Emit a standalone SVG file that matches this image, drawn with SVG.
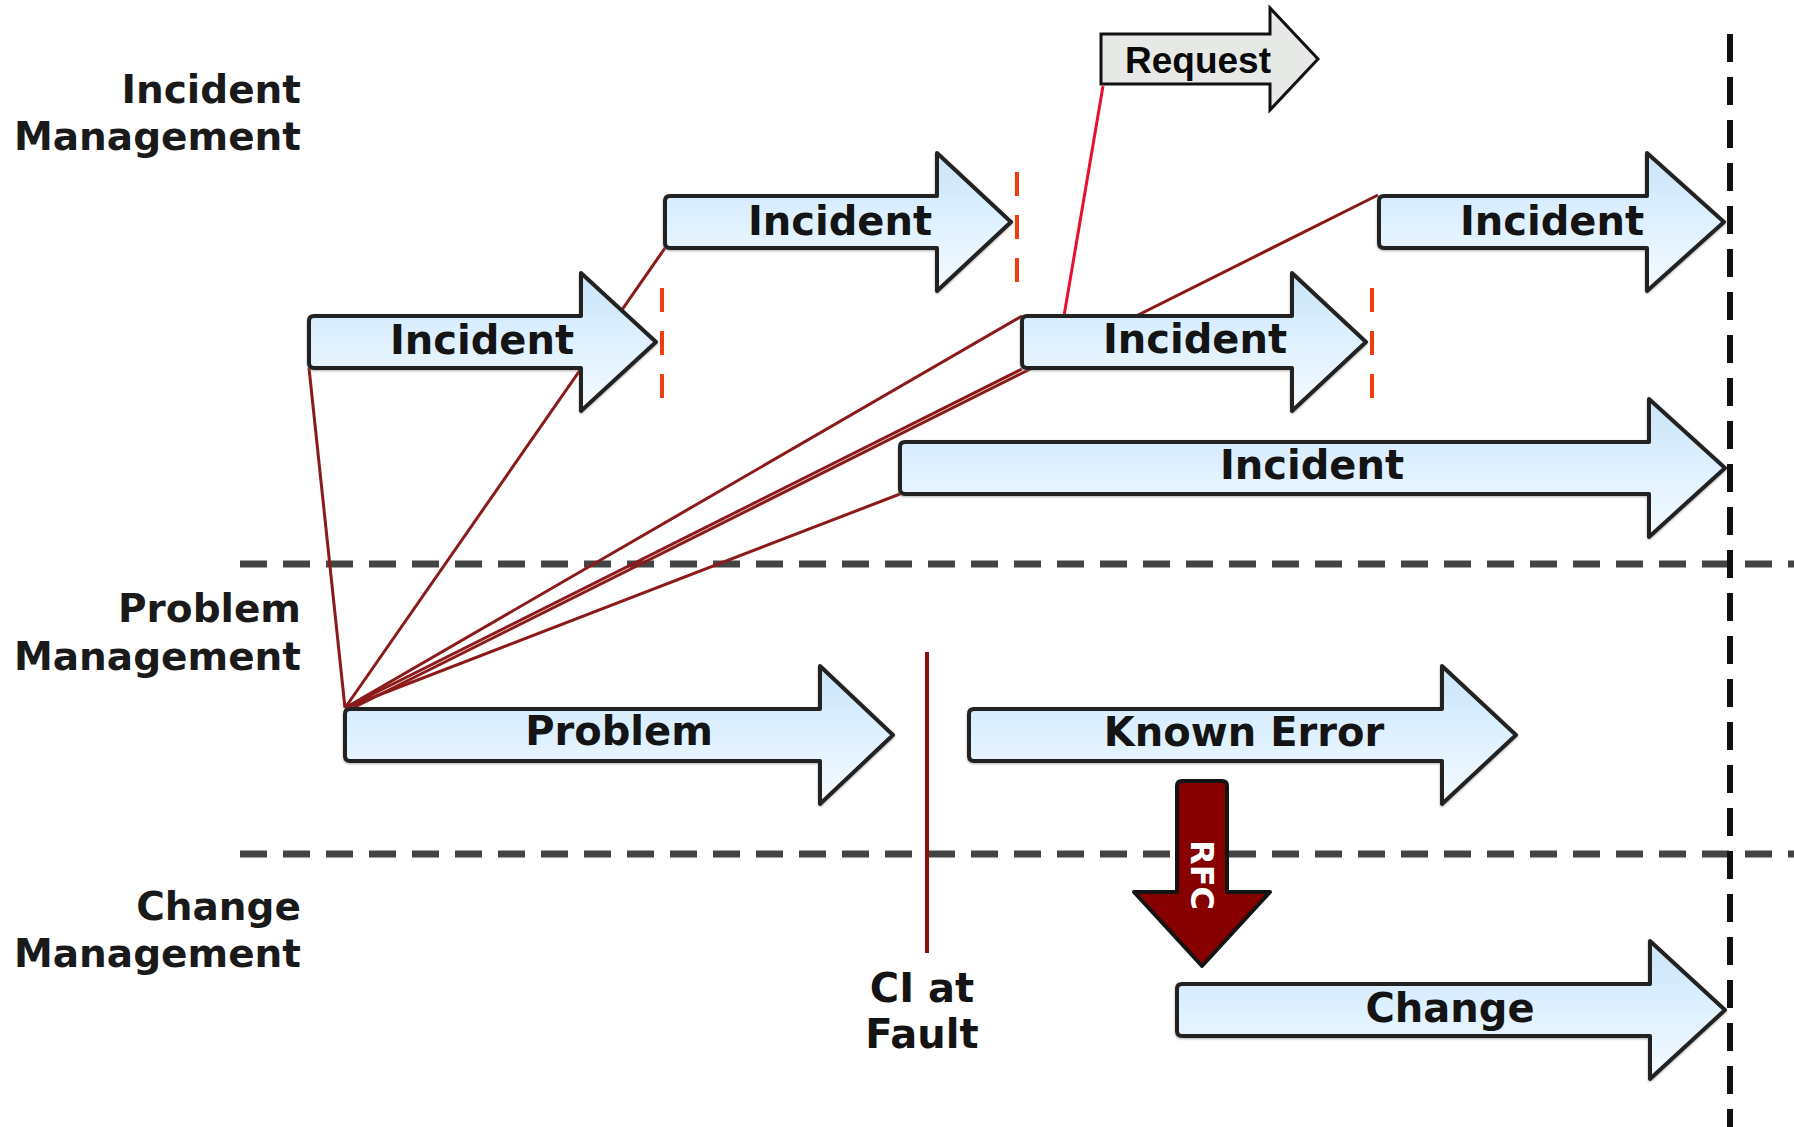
<svg xmlns="http://www.w3.org/2000/svg" width="1794" height="1127" viewBox="0 0 1794 1127">
<defs>
  <linearGradient id="blueFill" x1="0" y1="0" x2="0" y2="1">
    <stop offset="0" stop-color="#c9e4f7"/>
    <stop offset="0.45" stop-color="#dcefff"/>
    <stop offset="1" stop-color="#f5fbff"/>
  </linearGradient>
  <filter id="halo" x="-5%" y="-10%" width="110%" height="120%">
    <feDropShadow dx="0" dy="1" stdDeviation="1.3" flood-color="#777" flood-opacity="0.6"/>
  </filter>
</defs>
<style>
  .arrow { fill: url(#blueFill); stroke: #222; stroke-width: 4; stroke-linejoin: round; filter: url(#halo); }
  .label { font-family: "DejaVu Sans", Verdana, sans-serif; font-weight: bold; font-size: 40px; fill: #141414; }
  .side { font-family: "DejaVu Sans", Verdana, sans-serif; font-weight: bold; font-size: 39px; fill: #1a1a1a; text-anchor: end; }
  .mid { text-anchor: middle; }
  .conn { stroke: #8b1a1a; stroke-width: 3; fill: none; }
  .req { stroke: #e8102c; stroke-width: 3; fill: none; }
  .guide { stroke: #444; stroke-width: 7; stroke-dasharray: 27 16; fill: none; }
  .vguide { stroke: #111; stroke-width: 6; stroke-dasharray: 28 15; fill: none; }
  .stop { stroke: #ee3d0f; stroke-width: 4; stroke-dasharray: 24 19; fill: none; }
</style>
<rect x="0" y="0" width="1794" height="1127" fill="#ffffff"/>

<g id="swimlane-labels">
  <text class="side" x="301" y="103">Incident</text>
  <text class="side" x="301" y="150">Management</text>
  <text class="side" x="301" y="622">Problem</text>
  <text class="side" x="301" y="670">Management</text>
  <text class="side" x="301" y="920">Change</text>
  <text class="side" x="301" y="967">Management</text>
</g>

<g id="lane-dividers">
  <line class="guide" x1="240" y1="564" x2="1794" y2="564"/>
  <line class="guide" x1="240" y1="854" x2="1794" y2="854"/>
</g>

<g id="connectors">
  <line class="conn" x1="345" y1="708" x2="309" y2="368"/>
  <line class="conn" x1="345" y1="708" x2="665" y2="248"/>
  <line class="conn" x1="345" y1="708" x2="1022" y2="316"/>
  <line class="conn" x1="345" y1="708" x2="1022" y2="369"/>
  <line class="conn" x1="345" y1="708" x2="900" y2="494"/>
  <line class="conn" x1="345" y1="712" x2="1378" y2="195"/>
  <line class="req" x1="1103" y1="86" x2="1064" y2="316"/>
</g>

<g id="ci-at-fault">
  <line x1="927" y1="652" x2="927" y2="953" stroke="#8b0f0f" stroke-width="4"/>
  <text class="label mid" x="922" y="1002">CI at</text>
  <text class="label mid" x="922" y="1048">Fault</text>
</g>

<g id="request">
  <path d="M1101,34 H1270 V8 L1318,59 L1270,110 V84 H1101 Z" fill="#e7e9e7" stroke="#111" stroke-width="3"/>
  <text x="1125" y="73" font-family="'Liberation Sans', Arial, sans-serif" font-weight="bold" font-size="37" fill="#0a0a0a">Request</text>
</g>

<g id="incident-1">
  <path class="arrow" d="M314,316 H581 V273 L656,342 L581,411 V368 H314 Q309,368 309,363 V321 Q309,316 314,316 Z"/>
  <text class="label mid" x="482" y="354">Incident</text>
</g>

<g id="incident-2">
  <path class="arrow" d="M670,196 H937 V153 L1011,222 L937,291 V248 H670 Q665,248 665,243 V201 Q665,196 670,196 Z"/>
  <text class="label mid" x="840" y="235">Incident</text>
</g>

<g id="incident-3">
  <path class="arrow" d="M1027,316 H1292 V273 L1366,342 L1292,411 V368 H1027 Q1022,368 1022,363 V321 Q1022,316 1027,316 Z"/>
  <text class="label mid" x="1195" y="353">Incident</text>
</g>

<g id="incident-4">
  <path class="arrow" d="M1384,196 H1647 V153 L1724,222 L1647,291 V248 H1384 Q1379,248 1379,243 V201 Q1379,196 1384,196 Z"/>
  <text class="label mid" x="1552" y="235">Incident</text>
</g>

<g id="incident-5">
  <path class="arrow" d="M905,442 H1649 V399 L1725,468 L1649,537 V494 H905 Q900,494 900,489 V447 Q900,442 905,442 Z"/>
  <text class="label mid" x="1312" y="479">Incident</text>
</g>

<g id="problem">
  <path class="arrow" d="M350,709 H820 V666 L893,735 L820,804 V761 H350 Q345,761 345,756 V714 Q345,709 350,709 Z"/>
  <text class="label mid" x="619" y="745">Problem</text>
</g>

<g id="known-error">
  <path class="arrow" d="M974,709 H1442 V666 L1516,735 L1442,804 V761 H974 Q969,761 969,756 V714 Q969,709 974,709 Z"/>
  <text class="label mid" x="1244" y="746">Known Error</text>
</g>

<g id="rfc">
  <path d="M1177,786 Q1177,781 1182,781 H1222 Q1227,781 1227,786 V892 H1270 L1202,966 L1134,892 H1177 Z" fill="#870000" stroke="#141414" stroke-width="4" stroke-linejoin="round"/>
  <text transform="translate(1191,875) rotate(90)" text-anchor="middle" font-family="'DejaVu Sans', Verdana, sans-serif" font-weight="bold" font-size="32" fill="#ffffff">RFC</text>
</g>

<g id="change">
  <path class="arrow" d="M1182,984 H1650 V941 L1725,1010 L1650,1079 V1036 H1182 Q1177,1036 1177,1031 V989 Q1177,984 1182,984 Z"/>
  <text class="label mid" x="1450" y="1022">Change</text>
</g>

<g id="closure-markers">
  <line class="stop" x1="662" y1="288" x2="662" y2="398"/>
  <line class="stop" x1="1017" y1="172" x2="1017" y2="282"/>
  <line class="stop" x1="1372" y1="288" x2="1372" y2="398"/>
</g>

<g id="timeline-end">
  <line class="vguide" x1="1730" y1="34" x2="1730" y2="1127"/>
</g>
</svg>
